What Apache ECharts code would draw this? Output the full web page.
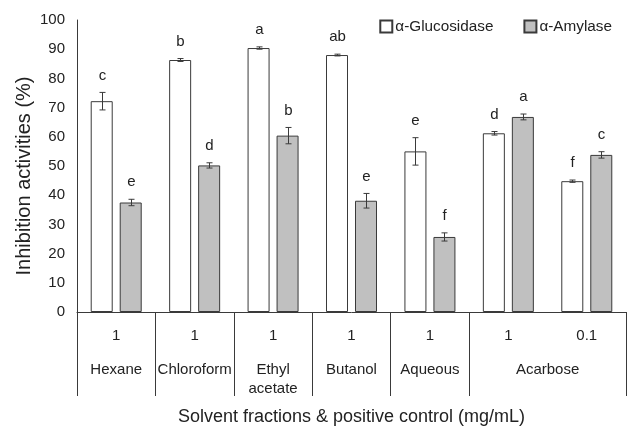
<!DOCTYPE html>
<html>
<head>
<meta charset="utf-8">
<title>Inhibition activities</title>
<script src="https://cdn.jsdelivr.net/npm/echarts@6/dist/echarts.min.js"></script>
<style>
  html, body { margin: 0; padding: 0; background: #fff; }
  #chart { width: 629px; height: 431px; }
</style>
</head>
<body>
<div id="chart"></div>
<script>
// dose row (one per bar pair)
var doses = ['1', '1', '1', '1', '1', '1', '0.1'];
// group row: label centre (in category units) and text
var groupPos = [0.5, 1.5, 2.5, 3.5, 4.5, 6];
var groupNames = ['Hexane', 'Chloroform', 'Ethyl\nacetate', 'Butanol', 'Aqueous', 'Acarbose'];
var groupEdges = [0, 1, 2, 3, 4, 5, 7];

var gluMean = [72.2, 86.3, 90.4, 88.0, 55.0, 61.2, 44.8];
var gluErr  = [3.0, 0.5, 0.4, 0.3, 4.7, 0.6, 0.4];
var gluLetters = ['c', 'b', 'a', 'ab', 'e', 'd', 'f'];

var amyMean = [37.5, 50.2, 60.4, 38.1, 25.7, 66.8, 53.8];
var amyErr  = [1.1, 0.9, 2.8, 2.5, 1.4, 1.0, 1.1];
var amyLetters = ['e', 'd', 'b', 'e', 'f', 'a', 'c'];

var barW = 22;
var gapPx = 7;
var font = 'Liberation Sans, Arial, sans-serif';
var ink = '#222';
var lineCol = '#3a3a3a';

// error bar rows: [category, series, mean, err]
var errData = [];
var errLetters = [];
for (var i = 0; i < doses.length; i++) {
  errData.push([i, 0, gluMean[i], gluErr[i]]);
  errLetters.push(gluLetters[i]);
  errData.push([i, 1, amyMean[i], amyErr[i]]);
  errLetters.push(amyLetters[i]);
}

var chart = echarts.init(document.getElementById('chart'));

var option = {
  animation: false,
  textStyle: { fontFamily: font, color: ink },
  grid: { left: 77, right: 3, top: 20, bottom: 117 },
  legend: {
    data: ['α-Glucosidase', 'α-Amylase'],
    right: 12,
    top: 14,
    icon: 'rect',
    itemWidth: 12,
    itemHeight: 12,
    itemGap: 30,
    textStyle: { fontSize: 15.3, color: ink, fontFamily: font, padding: [0, 0, 0, -2] }
  },
  xAxis: [{
    type: 'category',
    data: doses,
    axisLine: { show: true, lineStyle: { color: lineCol, width: 1 } },
    axisTick: { show: false },
    axisLabel: { fontSize: 15, color: ink, margin: 16 },
    name: 'Solvent fractions & positive control (mg/mL)',
    nameLocation: 'middle',
    nameGap: 96,
    nameTextStyle: { fontSize: 18, color: ink }
  }, {
    type: 'value',
    min: 0,
    max: 7,
    position: 'bottom',
    axisLine: { show: false },
    splitLine: { show: false },
    axisTick: {
      show: true,
      customValues: groupEdges,
      length: 84,
      lineStyle: { color: lineCol, width: 1 }
    },
    axisLabel: {
      customValues: groupPos,
      margin: 48,
      fontSize: 15,
      lineHeight: 19,
      color: ink,
      formatter: function (v) { return groupNames[groupPos.indexOf(v)]; }
    }
  }],
  yAxis: {
    type: 'value',
    min: 0,
    max: 100,
    interval: 10,
    axisLine: { show: true, lineStyle: { color: lineCol, width: 1 } },
    axisTick: { show: false },
    splitLine: { show: false },
    axisLabel: { fontSize: 15, color: ink, margin: 12 },
    name: 'Inhibition activities (%)',
    nameLocation: 'middle',
    nameGap: 43,
    nameMoveOverlap: false,
    nameTextStyle: { fontSize: 20, color: ink, padding: [0, 20, 0, 0] }
  },
  series: [{
    name: 'α-Glucosidase',
    type: 'bar',
    data: gluMean,
    barWidth: barW,
    barGap: (gapPx / barW * 100) + '%',
    itemStyle: { color: '#ffffff', borderColor: lineCol, borderWidth: 1 }
  }, {
    name: 'α-Amylase',
    type: 'bar',
    data: amyMean,
    barWidth: barW,
    itemStyle: { color: '#c0c0c0', borderColor: lineCol, borderWidth: 1 }
  }, {
    type: 'custom',
    data: errData,
    encode: { x: 0, y: 2 },
    silent: true,
    z: 5,
    renderItem: function (params, api) {
      var cat = api.value(0);
      var s = api.value(1);
      var m = api.value(2);
      var e = api.value(3);
      var off = (s === 0 ? -1 : 1) * (barW + gapPx) / 2;
      var hi = api.coord([cat, m + e]);
      var lo = api.coord([cat, m - e]);
      var x = Math.round(hi[0] + off) + 0.5;
      var cap = 3;
      var st = { stroke: lineCol, lineWidth: 1 };
      return {
        type: 'group',
        children: [
          { type: 'line', shape: { x1: x, y1: hi[1], x2: x, y2: lo[1] }, style: st },
          { type: 'line', shape: { x1: x - cap, y1: hi[1], x2: x + cap, y2: hi[1] }, style: st },
          { type: 'line', shape: { x1: x - cap, y1: lo[1], x2: x + cap, y2: lo[1] }, style: st },
          {
            type: 'text',
            style: {
              x: x,
              y: hi[1] - 17,
              text: errLetters[params.dataIndex],
              align: 'center',
              verticalAlign: 'middle',
              fontSize: 15,
              fontFamily: font,
              fill: ink
            }
          }
        ]
      };
    }
  }]
};

chart.setOption(option);
</script>
</body>
</html>
